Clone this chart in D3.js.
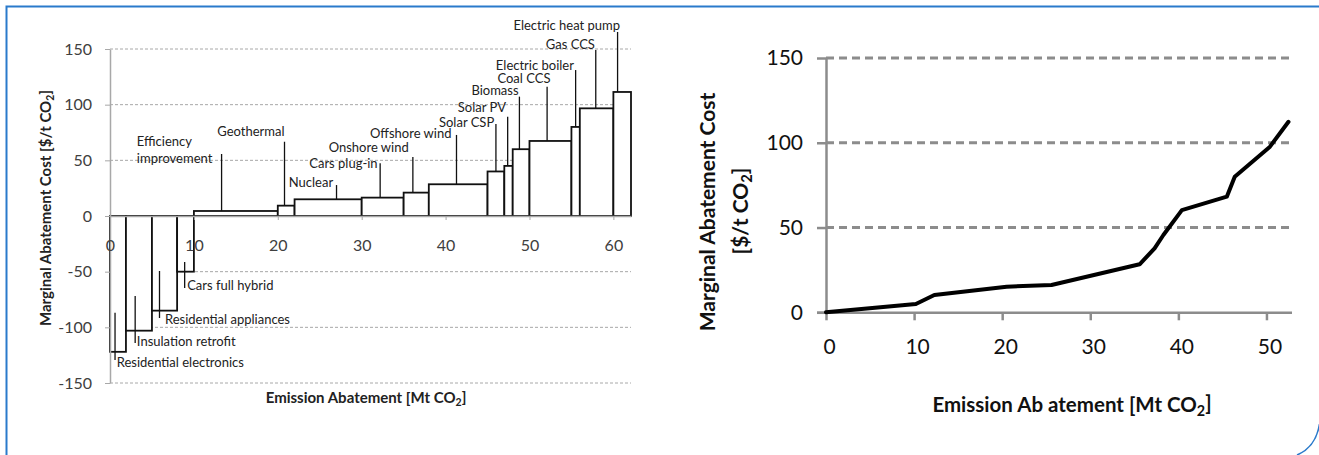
<!DOCTYPE html>
<html><head><meta charset="utf-8">
<script src="https://cdn.jsdelivr.net/npm/d3@7"></script>
<style>
body{margin:0;background:#fff}
svg{display:block}
text{font-family:Lato,"Open Sans","DejaVu Sans",sans-serif}
</style>
</head><body>
<svg id="chart" width="1319" height="455"></svg>
<script>
// ---------- DATA ----------
const measures = ["Residential electronics","Insulation retrofit","Residential appliances","Cars full hybrid",
  "Efficiency improvement","Geothermal","Nuclear","Cars plug-in","Onshore wind","Offshore wind",
  "Solar CSP","Solar PV","Biomass","Coal CCS","Electric boiler","Gas CCS","Electric heat pump"];
const abatement = [1.9, 3.1, 3.0, 2.0, 10.0, 2.0, 8.0, 5.0, 3.0, 7.0, 2.0, 1.0, 2.0, 5.0, 1.0, 4.0, 2.1];
const cost = [-122, -103, -85, -50, 4.5, 9.3, 15, 16.5, 21, 28.5, 40, 45, 60, 67.4, 80, 96.7, 111.4];
const leftXTicks = [0, 10, 20, 30, 40, 50, 60];
const leftYTicks = [-150, -100, -50, 0, 50, 100, 150];

const curveAbatement = [0, 10.2, 12.3, 20.5, 25.6, 35.6, 37.3, 38.3, 40.4, 45.5, 46.4, 50.4, 52.5];
const curveCost = [0, 4.9, 10.2, 15.1, 16.1, 28.3, 37.7, 45.6, 60.3, 68.2, 80, 97.7, 112.4];
const rightXTicks = [0, 10, 20, 30, 40, 50];
const rightYTicks = [0, 50, 100, 150];

// annotation layout (data units): leader x, leader top, leader bottom, label x, label y, anchor
const annotLayout = [
  {lx:0.6, y1:-87, y2:-129.3, tx:0.8, ty:-131.1, a:"start"},
  {lx:3.0, y1:-71.9, y2:-114, tx:3.2, ty:-112.3, a:"start"},
  {lx:5.9, y1:-49.4, y2:-91.6, tx:6.55, ty:-92.5, a:"start"},
  {lx:8.9, y1:-41.3, y2:-64.7, tx:9.2, ty:-62, a:"start"},
  {lx:13.3, y1:55.7, y2:null, tx:3.2, ty:66.7, a:"start", lines:["Efficiency","improvement"], lh:16.5},
  {lx:20.8, y1:66.7, y2:null, tx:16.8, ty:76.3, a:"middle"},
  {lx:27.0, y1:27.8, y2:null, tx:26.6, ty:29.9, a:"end"},
  {lx:32.2, y1:47.3, y2:null, tx:31.9, ty:47.3, a:"end"},
  {lx:36.1, y1:53, y2:null, tx:35.6, ty:61.3, a:"end"},
  {lx:41.3, y1:72.8, y2:null, tx:40.7, ty:73.7, a:"end"},
  {lx:46.0, y1:82.6, y2:null, tx:45.8, ty:84.4, a:"end"},
  {lx:47.4, y1:89.2, y2:null, tx:47.2, ty:97.6, a:"end"},
  {lx:48.8, y1:107.2, y2:null, tx:48.7, ty:113.2, a:"end"},
  {lx:52.1, y1:116.1, y2:null, tx:52.5, ty:123.7, a:"end"},
  {lx:55.5, y1:131.1, y2:null, tx:55.3, ty:135, a:"end"},
  {lx:57.9, y1:149.1, y2:null, tx:57.8, ty:154.5, a:"end"},
  {lx:60.5, y1:165.3, y2:null, tx:60.8, ty:171, a:"end"}
];

// ---------- SETUP ----------
const svg = d3.select("#chart");
const fmt = d => String(d);

// frame
svg.append("path").attr("d","M1319,6.5H6.5V455").attr("fill","none")
  .attr("stroke","#2a7acb").attr("stroke-width",2);
svg.append("path").attr("d","M1297,455 Q1316,447 1319.5,424").attr("fill","none")
  .attr("stroke","#2a7acb").attr("stroke-width",1.6);

function addCO2(sel, before, after){
  sel.append("tspan").text(before);
  sel.append("tspan").text("2").attr("font-size","70%").attr("dy","0.28em");
  sel.append("tspan").text(after).attr("dy","-0.28em");
}

// ---------- LEFT CHART ----------
const totalAb = d3.sum(abatement);
const x = d3.scaleLinear().domain([0, totalAb]).range([110, 631]);
const y = d3.scaleLinear().domain([-150, 150]).range([383, 49]);
const L = svg.append("g");

// gridlines
L.selectAll("line.grid").data(leftYTicks.filter(v => v !== 0)).join("line")
  .attr("x1", x(0)).attr("x2", x(totalAb)).attr("y1", d => y(d)).attr("y2", d => y(d))
  .attr("stroke","#a8a8a8").attr("stroke-width",1).attr("stroke-dasharray","3,2");

// bars
let cum = 0;
const bars = measures.map((m, i) => { const s = cum; cum += abatement[i]; return {m, x0: s, x1: cum, c: cost[i]}; });
L.selectAll("rect.bar").data(bars).join("rect")
  .attr("x", d => x(d.x0)).attr("width", d => x(d.x1) - x(d.x0))
  .attr("y", d => Math.min(y(d.c), y(0))).attr("height", d => Math.abs(y(d.c) - y(0)))
  .attr("fill","#fff").attr("stroke","#111").attr("stroke-width",1.8);

// axes (on top of bars, as in the reference)
const yAxL = L.append("g").attr("transform",`translate(${x(0)},0)`)
  .call(d3.axisLeft(y).tickValues(leftYTicks).tickFormat(fmt).tickSize(5).tickPadding(13).tickSizeOuter(0));
yAxL.select(".domain").attr("stroke","#a8a8a8").attr("stroke-width",1.5);
yAxL.selectAll(".tick line").attr("stroke","#a8a8a8");
yAxL.selectAll(".tick text").attr("font-size",16).attr("fill","#404040").attr("font-family","Lato,sans-serif");

const xAxL = L.append("g").attr("transform",`translate(0,${y(0)})`)
  .call(d3.axisBottom(x).tickValues(leftXTicks).tickFormat(fmt).tickSize(4).tickPadding(20).tickSizeOuter(0));
xAxL.select(".domain").attr("stroke","#a8a8a8").attr("stroke-width",1.5);
xAxL.selectAll(".tick line").attr("stroke","#a8a8a8");
xAxL.selectAll(".tick text").attr("font-size",16).attr("fill","#404040").attr("font-family","Lato,sans-serif");

// annotations
measures.forEach((m, i) => {
  const a = annotLayout[i];
  const y2 = a.y2 === null ? cost[i] : a.y2;
  L.append("line").attr("x1", x(a.lx)).attr("x2", x(a.lx)).attr("y1", y(a.y1)).attr("y2", y(y2))
    .attr("stroke","#111").attr("stroke-width",1.3);
  const lines = a.lines || [m];
  lines.forEach((t, k) => {
    L.append("text").attr("x", x(a.tx)).attr("y", y(a.ty) + k * (a.lh || 0)).attr("dy","0.35em")
      .attr("text-anchor", a.a).attr("font-size",13).attr("fill","#222").text(t);
  });
});

// titles
addCO2(L.append("text").attr("x",366).attr("y",398).attr("dy","0.35em").attr("text-anchor","middle")
  .attr("font-size",15).attr("font-weight","bold").attr("fill","#222"), "Emission Abatement [Mt CO", "]");
addCO2(L.append("text").attr("transform","translate(46,208) rotate(-90)").attr("dy","0.35em").attr("text-anchor","middle")
  .attr("font-size",15).attr("font-weight","bold").attr("fill","#222"), "Marginal Abatement Cost [$/t CO", "]");

// ---------- RIGHT CHART ----------
const xr = d3.scaleLinear().domain([0, 52.9]).range([826, 1292]);
const yr = d3.scaleLinear().domain([0, 150]).range([312.3, 58]);
const R = svg.append("g");

R.selectAll("line.grid").data(rightYTicks.filter(v => v !== 0)).join("line")
  .attr("x1", xr(0)).attr("x2", xr(52.9)).attr("y1", d => yr(d)).attr("y2", d => yr(d))
  .attr("stroke","#8c8c8c").attr("stroke-width",3).attr("stroke-dasharray","8,5");

const yAxR = R.append("g").attr("transform",`translate(${xr(0)},0)`)
  .call(d3.axisLeft(yr).tickValues(rightYTicks).tickFormat(fmt).tickSize(9).tickPadding(14).tickSizeOuter(0));
yAxR.select(".domain").attr("stroke","#8c8c8c").attr("stroke-width",2.5);
yAxR.selectAll(".tick line").attr("stroke","#8c8c8c").attr("stroke-width",2.5);
yAxR.selectAll(".tick text").attr("font-size",21).attr("fill","#111").attr("font-family","Lato,sans-serif");

const xAxR = R.append("g").attr("transform",`translate(0,${yr(0)})`)
  .call(d3.axisBottom(xr).tickValues(rightXTicks).tickFormat(fmt).tickSize(8).tickPadding(19).tickSizeOuter(0));
xAxR.select(".domain").attr("stroke","#8c8c8c").attr("stroke-width",2.5)
  .attr("d", `M${xr(0)-9},0.5H${xr(52.9)}`);
xAxR.selectAll(".tick line").attr("stroke","#8c8c8c").attr("stroke-width",2.5);
xAxR.selectAll(".tick text").attr("font-size",21).attr("fill","#111").attr("font-family","Lato,sans-serif")
  .attr("dx", 3);

const pts = curveAbatement.map((v, i) => [v, curveCost[i]]);
R.append("path").datum(pts)
  .attr("d", d3.line().x(d => xr(d[0])).y(d => yr(d[1])))
  .attr("fill","none").attr("stroke","#000").attr("stroke-width",4)
  .attr("stroke-linejoin","round").attr("stroke-linecap","round");

addCO2(R.append("text").attr("x",1072).attr("y",405).attr("dy","0.35em").attr("text-anchor","middle")
  .attr("font-size",20.5).attr("font-weight","bold").attr("fill","#111"), "Emission Ab atement [Mt CO", "]");
R.append("text").attr("transform","translate(708,212) rotate(-90)").attr("dy","0.35em").attr("text-anchor","middle")
  .attr("font-size",21).attr("font-weight","bold").attr("fill","#111").text("Marginal Abatement Cost");
addCO2(R.append("text").attr("transform","translate(741,211) rotate(-90)").attr("dy","0.35em").attr("text-anchor","middle")
  .attr("font-size",21).attr("font-weight","bold").attr("fill","#111"), "[$/t CO", "]");
</script>
</body></html>
